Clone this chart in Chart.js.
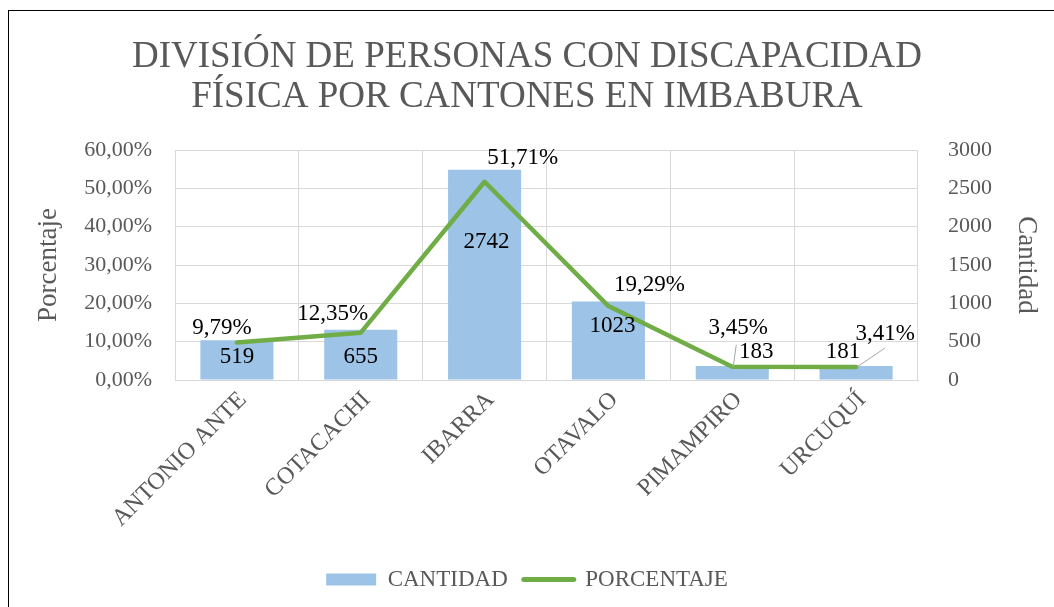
<!DOCTYPE html>
<html>
<head>
<meta charset="utf-8">
<script src="https://cdn.jsdelivr.net/npm/chart.js@4/dist/chart.umd.min.js"></script>
<style>
    html, body { margin: 0; padding: 0; background: #fff; overflow: hidden; }
    #wrap { position: relative; width: 1054px; height: 607px; }
    #wrap canvas { position: absolute; left: 0; top: 0; }
    #frame { position: absolute; left: 8px; top: 10px; width: 1100px; height: 700px;
             border-left: 1.5px solid #000; border-top: 1.5px solid #000; pointer-events: none; }
</style>
</head>
<body>
<div id="wrap">
    <canvas id="chart-cantones" width="1054" height="607"></canvas>
    <div id="frame"></div>
</div>
<script>
var cantones = ['ANTONIO ANTE', 'COTACACHI', 'IBARRA', 'OTAVALO', 'PIMAMPIRO', 'URCUQUÍ'];
var cantidad = [519, 655, 2742, 1023, 183, 181];
var porcentaje = [9.79, 12.35, 51.71, 19.29, 3.45, 3.41];

// nudges for the data labels, in px from bar top / line point
var nudgeCantidad = [[0, 17], [0, 27], [2, 72], [4, 24], [24, -14], [-13, -14]];
var nudgePorcentaje = [[-15, -15], [-28, -19], [38, -24], [41, -21], [6, -39], [29, -33]];
var conGuia = [false, false, false, false, true, true];

var serif = '"Liberation Serif", "Times New Roman", serif';
var gris = '#595959';

function pct(v) {
    return Number(v).toFixed(2).replace('.', ',') + '%';
}

// simple data labels (no datalabels plugin available)
var etiquetas = {
    id: 'etiquetas',
    afterDatasetsDraw: function (chart) {
        var ctx = chart.ctx;
        ctx.save();
        ctx.font = '23px ' + serif;
        ctx.fillStyle = '#000';
        ctx.textAlign = 'center';
        ctx.textBaseline = 'middle';

        chart.getDatasetMeta(0).data.forEach(function (bar, i) {
            ctx.fillText(String(cantidad[i]), bar.x + nudgeCantidad[i][0], bar.y + nudgeCantidad[i][1]);
        });

        chart.getDatasetMeta(1).data.forEach(function (pt, i) {
            var tx = pt.x + nudgePorcentaje[i][0];
            var ty = pt.y + nudgePorcentaje[i][1];
            if (conGuia[i]) {
                ctx.strokeStyle = '#A6A6A6';
                ctx.lineWidth = 1;
                ctx.beginPath();
                if (nudgePorcentaje[i][0] > 15) {
                    ctx.moveTo(tx, ty + 14);
                } else {
                    ctx.moveTo(pt.x + 4, ty + 17);
                }
                ctx.lineTo(pt.x + 1, pt.y);
                ctx.stroke();
            }
            ctx.fillText(pct(porcentaje[i]), tx, ty);
        });
        ctx.restore();
    }
};

var $canvas = document.getElementById('chart-cantones');

var chartCantones = new Chart($canvas, {
    type: 'bar',
    plugins: [etiquetas],
    data: {
        labels: cantones,
        datasets: [{
            type: 'bar',
            label: 'CANTIDAD',
            data: cantidad,
            yAxisID: 'y1',
            backgroundColor: '#9DC3E6',
            borderWidth: 0,
            categoryPercentage: 0.59,
            barPercentage: 1,
            order: 2
        }, {
            type: 'line',
            label: 'PORCENTAJE',
            data: porcentaje,
            yAxisID: 'y',
            borderColor: '#70AD47',
            backgroundColor: '#70AD47',
            borderWidth: 4.5,
            borderJoinStyle: 'round',
            borderCapStyle: 'round',
            pointRadius: 0,
            fill: false,
            tension: 0,
            order: 1
        }]
    },
    options: {
        responsive: false,
        animation: false,
        devicePixelRatio: 1,
        layout: { padding: { left: 0, right: 0, top: 0, bottom: 6 } },
        font: { family: serif },
        plugins: {
            title: {
                display: true,
                text: ['DIVISIÓN DE PERSONAS CON DISCAPACIDAD', 'FÍSICA POR CANTONES EN IMBABURA'],
                color: gris,
                font: { family: serif, size: 37, weight: 'normal', lineHeight: 40 / 37 },
                padding: { top: 37, bottom: 33 }
            },
            legend: {
                position: 'bottom',
                labels: {
                    color: gris,
                    font: { family: serif, size: 23 },
                    usePointStyle: true,
                    pointStyleWidth: 50,
                    boxHeight: 12,
                    padding: 16,
                    generateLabels: function (chart) {
                        var items = Chart.defaults.plugins.legend.labels.generateLabels(chart);
                        items.sort(function (a, b) { return a.datasetIndex - b.datasetIndex; });
                        items.forEach(function (it) {
                            if (it.datasetIndex === 0) {
                                it.pointStyle = 'rect';
                                it.fillStyle = '#9DC3E6';
                                it.strokeStyle = '#9DC3E6';
                                it.lineWidth = 0;
                            } else {
                                it.pointStyle = 'line';
                                it.strokeStyle = '#70AD47';
                                it.lineWidth = 5;
                                it.lineCap = 'round';
                            }
                        });
                        return items;
                    }
                }
            },
            tooltip: { enabled: false }
        },
        scales: {
            x: {
                grid: { color: '#D9D9D9', drawTicks: false, offset: true },
                border: { color: '#D9D9D9' },
                ticks: {
                    color: gris,
                    font: { family: serif, size: 24 },
                    minRotation: 45,
                    maxRotation: 45,
                    autoSkip: false,
                    padding: 6,
                    labelOffset: 6
                },
                afterFit: function (scale) { scale.height = 172; }
            },
            y: {
                position: 'left',
                min: 0,
                max: 60,
                ticks: {
                    stepSize: 10,
                    padding: 23,
                    color: gris,
                    font: { family: serif, size: 22 },
                    callback: function (v) { return pct(v); }
                },
                grid: { color: '#D9D9D9', drawTicks: false },
                border: { display: false },
                title: {
                    display: true,
                    text: 'Porcentaje',
                    color: gris,
                    font: { family: serif, size: 27 },
                    padding: { top: 33, bottom: 0 }
                },
                afterFit: function (scale) { scale.width = 175; }
            },
            y1: {
                position: 'right',
                min: 0,
                max: 3000,
                ticks: {
                    stepSize: 500,
                    padding: 30,
                    color: gris,
                    font: { family: serif, size: 22 },
                    callback: function (v) { return String(v); }
                },
                grid: { drawOnChartArea: false, drawTicks: false },
                border: { display: false },
                title: {
                    display: true,
                    text: 'Cantidad',
                    color: gris,
                    font: { family: serif, size: 27 },
                    padding: { top: 12, bottom: 0 }
                },
                afterFit: function (scale) { scale.width = 136; }
            }
        }
    }
});
</script>
</body>
</html>
